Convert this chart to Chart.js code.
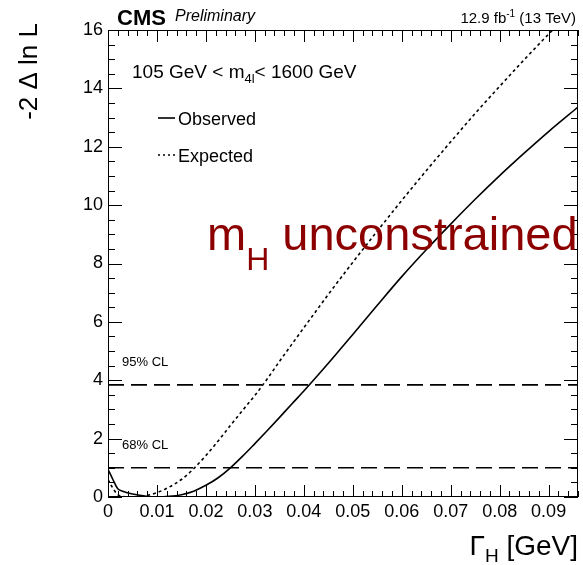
<!DOCTYPE html>
<html>
<head>
<meta charset="utf-8">
<script src="https://cdn.jsdelivr.net/npm/chart.js@4.4.0/dist/chart.umd.min.js"></script>
<style>
  html, body { margin: 0; padding: 0; background: #fff; }
</style>
</head>
<body>
<canvas id="c" width="583" height="565"></canvas>
<script>
// width scan points [GeV]
const gammaH = [0, 0.001, 0.002, 0.003, 0.005, 0.0075, 0.01, 0.0125, 0.015, 0.0175,
  0.02, 0.0225, 0.025, 0.0275, 0.03, 0.0325, 0.035, 0.0375, 0.04, 0.0425,
  0.045, 0.05, 0.055, 0.06, 0.065, 0.07, 0.075, 0.08, 0.085, 0.09, 0.096];
const observed = [0.95, 0.6, 0.28, 0.2, 0.1, 0.03, 0.0, 0.02, 0.08, 0.2,
  0.4, 0.66, 1.0, 1.4, 1.83, 2.27, 2.72, 3.18, 3.63, 4.1,
  4.58, 5.57, 6.57, 7.55, 8.47, 9.35, 10.2, 11.01, 11.78, 12.52, 13.36];
const expected = [0.6, 0.3, 0.08, 0.02, 0.0, 0.04, 0.15, 0.34, 0.6, 0.97,
  1.42, 1.92, 2.45, 2.97, 3.48, 4.04, 4.64, 5.22, 5.8, 6.37,
  6.94, 8.04, 9.11, 10.16, 11.18, 12.17, 13.14, 14.07, 14.98, 15.86, 16.88];
const clLevels = [1, 3.84];
const clLabels = ["68% CL", "95% CL"];
const xTicks = [0, 0.01, 0.02, 0.03, 0.04, 0.05, 0.06, 0.07, 0.08, 0.09];
const yTicks = [0, 2, 4, 6, 8, 10, 12, 14, 16];
const xMax = 0.096;
const yMax = 16;

const FONT = "'Liberation Sans', Arial, Helvetica, sans-serif";

function toPoints(ys) {
  return gammaH.map((x, i) => ({ x: x, y: ys[i] }));
}

// draw a run of text pieces (for sub/superscripts)
function drawParts(ctx, parts, x, y, align) {
  let total = 0;
  parts.forEach(p => {
    ctx.font = p.font;
    p.w = ctx.measureText(p.t).width;
    total += p.w;
  });
  let cx = align === "right" ? x - total : x;
  ctx.textAlign = "left";
  parts.forEach(p => {
    ctx.font = p.font;
    ctx.fillText(p.t, cx, y + (p.dy || 0));
    cx += p.w;
  });
}

const decorPlugin = {
  id: "decor",
  afterDraw(chart) {
    const ctx = chart.ctx;
    const a = chart.chartArea;
    const xs = chart.scales.x, ys = chart.scales.y;
    ctx.save();
    ctx.strokeStyle = "#000";
    ctx.lineWidth = 1;
    ctx.strokeRect(a.left + 0.5, a.top + 0.5, a.right - a.left - 1, a.bottom - a.top - 1);

    // inward ticks on all four sides
    ctx.beginPath();
    for (let i = 0; i * 0.002 <= xMax + 1e-9; i++) {
      const px = Math.round(xs.getPixelForValue(i * 0.002)) + 0.5;
      const len = i % 5 === 0 ? 12 : 6;
      ctx.moveTo(px, a.bottom); ctx.lineTo(px, a.bottom - len);
      ctx.moveTo(px, a.top); ctx.lineTo(px, a.top + len);
    }
    for (let i = 0; i * 0.5 <= yMax; i++) {
      const py = Math.round(ys.getPixelForValue(i * 0.5)) + 0.5;
      const len = i % 4 === 0 ? 14 : 7;
      ctx.moveTo(a.left, py); ctx.lineTo(a.left + len, py);
      ctx.moveTo(a.right, py); ctx.lineTo(a.right - len, py);
    }
    ctx.stroke();

    ctx.fillStyle = "#000";
    ctx.textBaseline = "alphabetic";

    // header
    ctx.font = "bold 22px " + FONT;
    ctx.fillText("CMS", 117, 25);
    ctx.font = "italic 16px " + FONT;
    ctx.fillText("Preliminary", 175, 21);
    drawParts(ctx, [
      { t: "12.9 fb", font: "15px " + FONT },
      { t: "-1", font: "10px " + FONT, dy: -6 },
      { t: " (13 TeV)", font: "15px " + FONT }
    ], 576, 23, "right");

    // mass range
    drawParts(ctx, [
      { t: "105 GeV < m", font: "19px " + FONT },
      { t: "4l", font: "13px " + FONT, dy: 5 },
      { t: "< 1600 GeV", font: "19px " + FONT }
    ], 132, 78, "left");

    // legend
    ctx.lineWidth = 1.6;
    ctx.beginPath(); ctx.moveTo(158, 118); ctx.lineTo(175, 118); ctx.stroke();
    ctx.setLineDash([2, 3]);
    ctx.beginPath(); ctx.moveTo(158, 155); ctx.lineTo(175, 155); ctx.stroke();
    ctx.setLineDash([]);
    ctx.font = "18px " + FONT;
    ctx.fillText("Observed", 178, 125);
    ctx.fillText("Expected", 178, 162);

    // CL labels
    ctx.font = "13px " + FONT;
    clLevels.forEach((lv, i) => {
      ctx.fillText(clLabels[i], 122, ys.getPixelForValue(lv) - 19);
    });

    // big label
    ctx.fillStyle = "rgb(140,0,0)";
    drawParts(ctx, [
      { t: "m", font: "47px " + FONT },
      { t: "H", font: "32px " + FONT, dy: 20 },
      { t: " unconstrained", font: "47px " + FONT }
    ], 207, 250, "left");

    // axis titles
    ctx.fillStyle = "#000";
    drawParts(ctx, [
      { t: "\u0393", font: "28px " + FONT },
      { t: "H", font: "19px " + FONT, dy: 7 },
      { t: " [GeV]", font: "28px " + FONT }
    ], 578, 555, "right");

    ctx.translate(37, 23);
    ctx.rotate(-Math.PI / 2);
    ctx.textAlign = "right";
    ctx.font = "26px " + FONT;
    ctx.fillText("-2 \u0394 ln L", 0, 0);
    ctx.restore();
  }
};

const lineBase = {
  borderColor: "#000",
  borderWidth: 1.6,
  pointRadius: 0,
  showLine: true,
  fill: false
};

const datasets = [
  Object.assign({}, lineBase, { label: "Observed", data: toPoints(observed), cubicInterpolationMode: "monotone" }),
  Object.assign({}, lineBase, { label: "Expected", data: toPoints(expected), cubicInterpolationMode: "monotone", borderDash: [3, 3] })
];
clLevels.forEach((lv, i) => {
  datasets.push(Object.assign({}, lineBase, {
    label: clLabels[i],
    data: [{ x: 0, y: lv }, { x: xMax, y: lv }],
    borderDash: [16, 7]
  }));
});

new Chart(document.getElementById("c").getContext("2d"), {
  type: "scatter",
  data: { datasets: datasets },
  options: {
    responsive: false,
    animation: false,
    layout: { padding: { top: 30, right: 5, left: 0, bottom: 0 } },
    plugins: { legend: { display: false }, tooltip: { enabled: false } },
    scales: {
      x: {
        type: "linear",
        min: 0,
        max: xMax,
        grid: { display: false, drawTicks: false },
        border: { display: false },
        ticks: {
          color: "#000",
          font: { family: FONT, size: 18 },
          padding: 4,
          autoSkip: false,
          maxRotation: 0,
          callback: v => (v === 0 ? "0" : v.toFixed(2))
        },
        afterBuildTicks: s => { s.ticks = xTicks.map(v => ({ value: v })); },
        afterFit: s => { s.height = 68; }
      },
      y: {
        type: "linear",
        min: 0,
        max: yMax,
        grid: { display: false, drawTicks: false },
        border: { display: false },
        ticks: {
          color: "#000",
          font: { family: FONT, size: 18 },
          padding: 5,
          autoSkip: false,
          callback: v => String(v)
        },
        afterBuildTicks: s => { s.ticks = yTicks.map(v => ({ value: v })); },
        afterFit: s => { s.width = 108; }
      }
    }
  },
  plugins: [decorPlugin]
});
</script>
</body>
</html>
